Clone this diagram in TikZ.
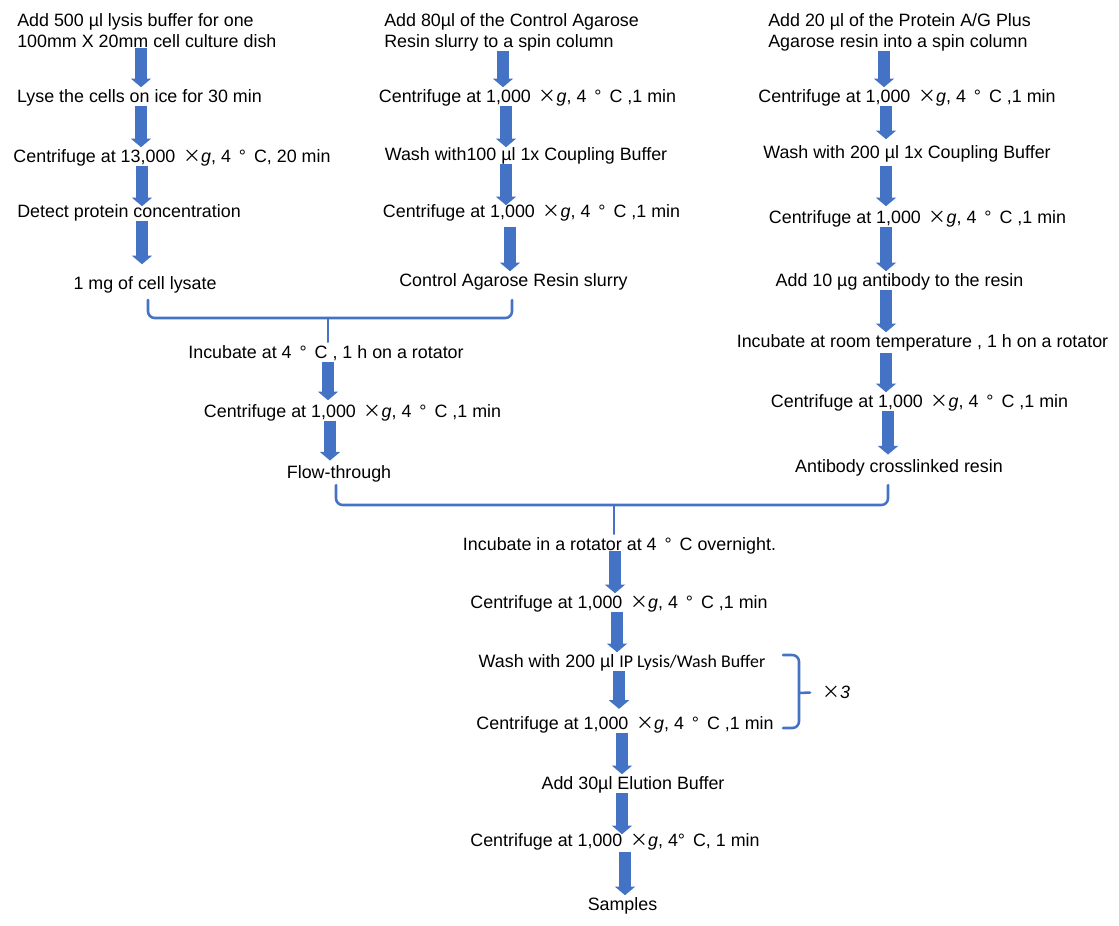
\documentclass[tikz,border=0pt]{standalone}
\usepackage{fontspec}
\setmainfont{Liberation Sans}
\newfontfamily\cjkfont{Noto Sans CJK SC}
\newfontfamily\carlfont{Carlito}
\usetikzlibrary{arrows.meta}
\definecolor{flowblue}{HTML}{4472C4}
\newcommand{\xg}{\,{\cjkfont ×}\textit{g}}
\begin{document}
\begin{tikzpicture}[x=0.75pt, y=-0.75pt, line cap=round, line join=round, font=\fontsize{13.4}{15.75}\selectfont]
	\tikzset{step text/.style={inner sep=0pt, text height=0.8em, text depth=0.25em, yshift=-1.1pt},
		two line/.style={inner sep=0pt, anchor=north west, align=left},
		flow arrow/.style={flowblue, line width=8.5pt, line cap=butt, -{Triangle[width=15pt,length=6.5pt]}, shorten >=3pt},
		brace line/.style={flowblue, line width=1.9pt, rounded corners=5pt}}
	\useasboundingbox (0,0) rectangle (1119,925);
	% lysate column
	\node[two line] (l1) at (17,13) {Add 500 µl lysis buffer for one\\100mm X 20mm cell culture dish};
	\node[step text] (l2) at (139.5,97) {Lyse the cells on ice for 30 min};
	\node[step text] (l3) at (172,157) {Centrifuge at 13,000 \xg, 4 \,° \,C, 20 min};
	\node[step text] (l4) at (129,212) {Detect protein concentration};
	\node[step text] (l5) at (145,284) {1 mg of cell lysate};
	\draw[flow arrow] (l1.south -| 141,0) -- (l2.north -| 141,0);
	\draw[flow arrow] (l2.south -| 141,0) -- (l3.north -| 141,0);
	\draw[flow arrow, shorten >=0pt] (l3.south -| 142,0) -- (l4.north -| 142,0);
	\draw[flow arrow, shorten >=10.5pt] (l4.south -| 142,0) -- (l5.north -| 142,0);
	% control resin column
	\node[two line] (c1) at (384,13) {Add 80µl of the Control Agarose\\Resin slurry to a spin column};
	\node[step text] (c2) at (527.5,97) {Centrifuge at 1,000 \xg, 4 \,° \,C ,1 min};
	\node[step text] (c3) at (526,155) {Wash with100 µl 1x Coupling Buffer};
	\node[step text] (c4) at (531.5,212) {Centrifuge at 1,000 \xg, 4 \,° \,C ,1 min};
	\node[step text] (c5) at (513.5,281) {Control Agarose Resin slurry};
	\draw[flow arrow] (c1.south -| 503,0) -- (c2.north -| 503,0);
	\draw[flow arrow, shorten >=1.5pt] (c2.south -| 506,0) -- (c3.north -| 506,0);
	\draw[flow arrow, shorten >=0.75pt] (c3.south -| 506,0) -- (c4.north -| 506,0);
	\draw[flow arrow, shorten <=5pt] (c4.south -| 510,0) -- (c5.north -| 510,0);
	% antibody resin column
	\node[two line] (r1) at (768,13) {Add 20 µl of the Protein A/G Plus\\Agarose resin into a spin column};
	\node[step text] (r2) at (907,97) {Centrifuge at 1,000 \xg, 4 \,° \,C ,1 min};
	\node[step text] (r3) at (907,153) {Wash with 200 µl 1x Coupling Buffer};
	\node[step text] (r4) at (917.5,218) {Centrifuge at 1,000 \xg, 4 \,° \,C ,1 min};
	\node[step text] (r5) at (899.5,281) {Add 10 µg antibody to the resin};
	\node[step text] (r6) at (922.5,342) {Incubate at room temperature , 1 h on a rotator};
	\node[step text] (r7) at (919.5,402) {Centrifuge at 1,000 \xg, 4 \,° \,C ,1 min};
	\node[step text] (r8) at (899,467) {Antibody crosslinked resin};
	\draw[flow arrow] (r1.south -| 884,0) -- (r2.north -| 884,0);
	\draw[flow arrow, shorten >=6pt] (r2.south -| 886,0) -- (r3.north -| 886,0);
	\draw[flow arrow, shorten <=3pt, shorten >=4.5pt] (r3.south -| 886,0) -- (r4.north -| 886,0);
	\draw[flow arrow] (r4.south -| 886,0) -- (r5.north -| 886,0);
	\draw[flow arrow] (r5.south -| 886,0) -- (r6.north -| 886,0);
	\draw[flow arrow, shorten <=1.5pt] (r6.south -| 886,0) -- (r7.north -| 886,0);
	\draw[flow arrow, shorten >=5pt] (r7.south -| 888,0) -- (r8.north -| 888,0);
	% pre-clearing
	\coordinate (bl1) at (148,300);
	\coordinate (bt1) at (328,318);
	\coordinate (br1) at (512,300);
	\draw[brace line] (bl1) |- (bt1) -| (br1);
	\node[step text] (m1) at (326,353) {Incubate at 4 \,° \,C , 1 h on a rotator};
	\node[step text] (m2) at (352.5,412) {Centrifuge at 1,000 \xg, 4 \,° \,C ,1 min};
	\node[step text] (m3) at (339,473) {Flow-through};
	\draw[brace line, shorten >=4pt] (bt1) -- (m1.north -| bt1);
	\draw[flow arrow, shorten >=4.5pt] (m1.south -| 328,0) -- (m2.north -| 328,0);
	\draw[flow arrow, shorten >=5pt] (m2.south -| 330,0) -- (m3.north -| 330,0);
	% immunoprecipitation
	\coordinate (bl2) at (336,485);
	\coordinate (bt2) at (614,505);
	\coordinate (br2) at (888,485);
	\draw[brace line] (bl2) |- (bt2) -| (br2);
	\node[step text] (b1) at (619.5,545) {Incubate in a rotator at 4 \,° \,C overnight.};
	\node[step text] (b2) at (619,603) {Centrifuge at 1,000 \xg, 4 \,° \,C ,1 min};
	\node[step text] (b3) at (622,662) {Wash with 200 µl {\carlfont IP Lysis/Wash Buffer}};
	\node[step text] (b4) at (625,724) {Centrifuge at 1,000 \xg, 4 \,° \,C ,1 min};
	\node[step text] (b5) at (633,784) {Add 30µl Elution Buffer};
	\node[step text] (b6) at (615,841) {Centrifuge at 1,000 \xg, 4° \,C, 1 min};
	\node[step text] (b7) at (622.5,905) {Samples};
	\draw[brace line, shorten >=4pt] (bt2) -- (b1.north -| bt2);
	\draw[flow arrow, shorten <=-2pt] (b1.south -| 615,0) -- (b2.north -| 615,0);
	\draw[flow arrow] (b2.south -| 617,0) -- (b3.north -| 617,0);
	\draw[flow arrow, shorten >=7pt] (b3.south -| 619,0) -- (b4.north -| 619,0);
	\draw[flow arrow] (b4.south -| 622,0) -- (b5.north -| 622,0);
	\draw[flow arrow, shorten >=0.75pt] (b5.south -| 622,0) -- (b6.north -| 622,0);
	\draw[flow arrow, shorten <=2pt] (b6.south -| 625,0) -- (b7.north -| 625,0);
	% repeat wash three times
	\draw[brace line] (783,655) -| (799,728) -- (783,728);
	\coordinate (bt3) at (799,693);
	\node[inner sep=0pt, anchor=west] (x3) at (822,692) {{\cjkfont ×}\textit{3}};
	\draw[brace line] (bt3) -- (x3.west) [shorten >=9pt];
\end{tikzpicture}
\end{document}
